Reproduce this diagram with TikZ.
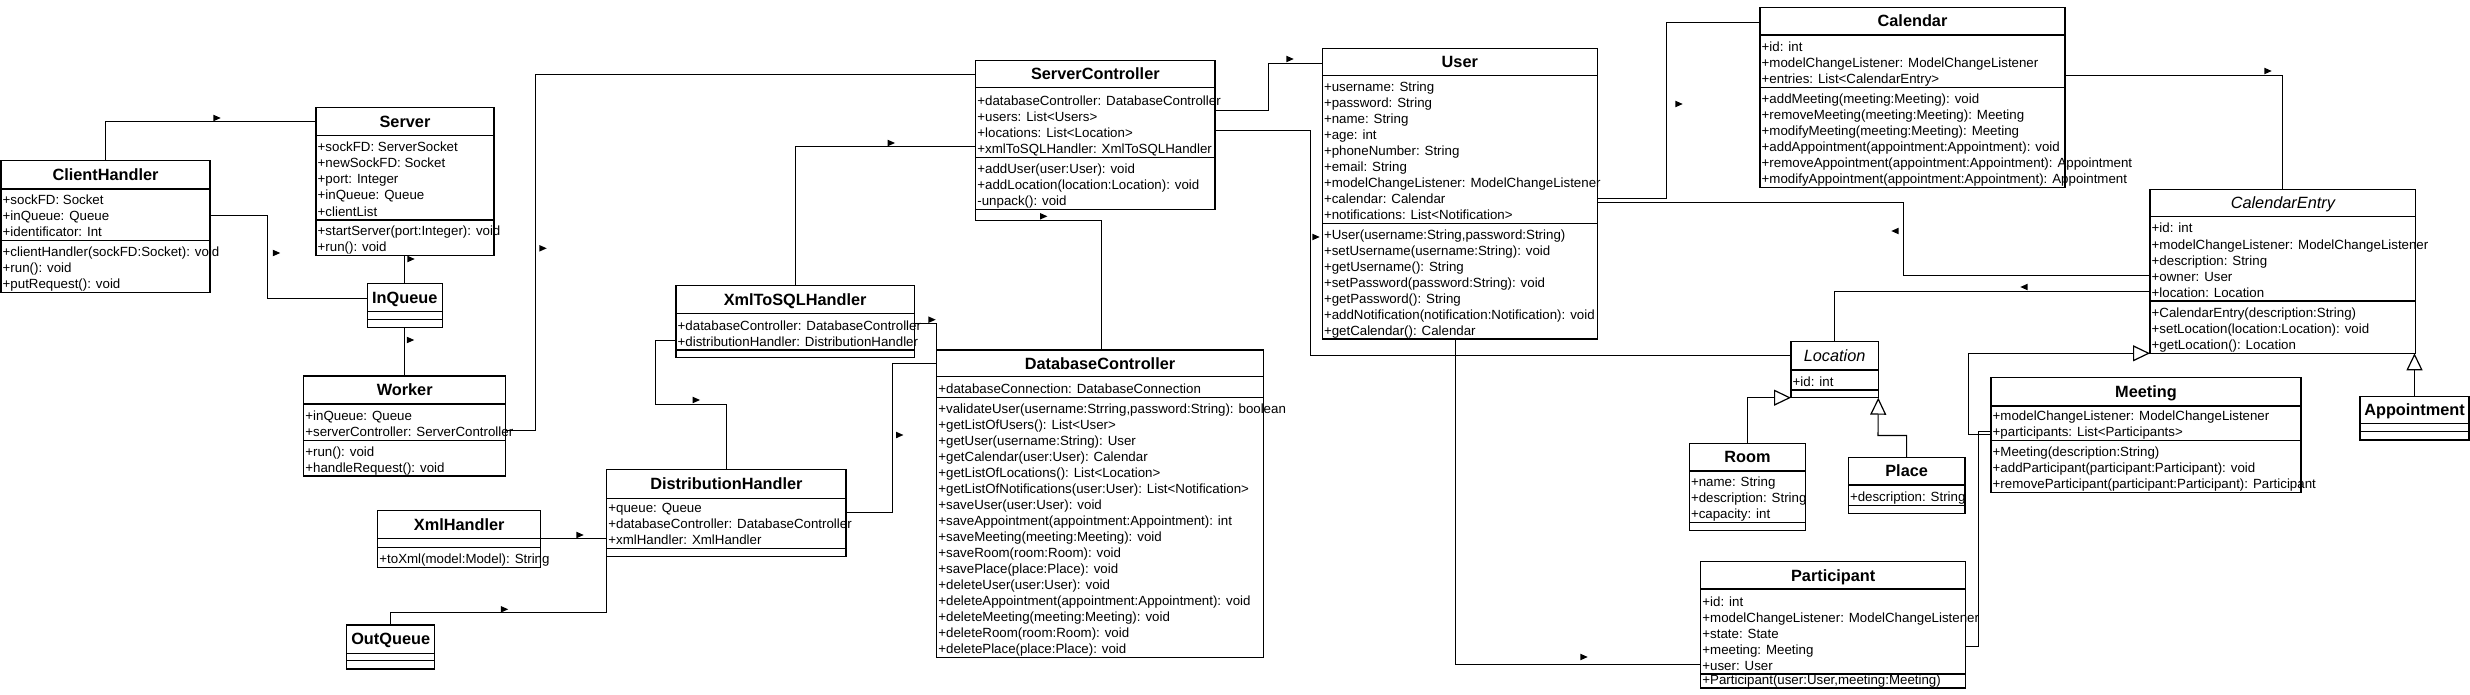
\documentclass[tikz,border=0pt]{standalone}
\usepackage{fontspec}
\setmainfont{Liberation Sans}
\usetikzlibrary{arrows.meta}
\tikzset{
 cls/.style={draw, line width=1.3pt, inner sep=0pt, outer sep=0pt, anchor=north west},
 sepl/.style={line width=1.3pt},
 conn/.style={line width=1.1pt},
 gen/.style={line width=1.1pt, -{Triangle[open,length=17pt,width=16pt,line width=1.2pt]}},
 attr/.style={font=\fontsize{13.3}{16}\selectfont, anchor=base west, inner sep=0pt},
 ttl/.style={font=\fontsize{16.3}{19}\selectfont\bfseries, anchor=base, inner sep=0pt},
 ttli/.style={font=\fontsize{16.3}{19}\selectfont\itshape, anchor=base, inner sep=0pt},
}
% id, L, T, R, B, sep1, sep2, title style, title
\newcommand\ucls[9]{%
 \node[cls, minimum width={(#4)-(#2)}, minimum height={(#5)-(#3)}] (#1) at (#2,#3) {};
 \draw[sepl] (#2,#6) -- (#4,#6);
 \draw[sepl] (#2,#7) -- (#4,#7);
 \node[#8] (#1-t) at ({(#2+#4)/2},{(#3+#6)/2+5.8}) {#9};
}
% name prefix, x, first baseline, list
\newcommand\rows[4]{%
 \foreach \t [count=\i from 0] in {#4} {\node[attr] (#1\i) at (#2+1.5, #3+16*\i) {\t};}
}
\newcommand\mkR[2]{\fill (#1-3.7,#2-3.3) -- (#1+3.7,#2) -- (#1-3.7,#2+3.3) -- cycle;}
\newcommand\mkL[2]{\fill (#1+3.7,#2-3.3) -- (#1-3.7,#2) -- (#1+3.7,#2+3.3) -- cycle;}
\begin{document}
\begin{tikzpicture}[x=1pt,y=-1pt]
\useasboundingbox (0,0) rectangle (2470,695);

\ucls{ch}{1}{160.7}{210}{292.7}{189}{240.7}{ttl}{ClientHandler}
\rows{ch-a}{1}{204.7}{+sockFD: Socket, +inQueue: Queue, +identificator: Int}
\rows{ch-m}{1}{256.7}{+clientHandler(sockFD:Socket): void, +run(): void, +putRequest(): void}

\ucls{srv}{316}{107.3}{494}{255.7}{135.7}{220}{ttl}{Server}
\rows{srv-a}{316}{152}{+sockFD: ServerSocket, +newSockFD: Socket, +port: Integer, +inQueue: Queue, +clientList}
\rows{srv-m}{316}{235.7}{+startServer(port:Integer): void, +run(): void}

\ucls{inq}{367.3}{283.3}{442.3}{327.7}{311.7}{319.3}{ttl}{InQueue}

\ucls{wrk}{303.7}{376}{505.7}{476}{404}{440.3}{ttl}{Worker}
\rows{wrk-a}{303.7}{420.3}{+inQueue: Queue, +serverController: ServerController}
\rows{wrk-m}{303.7}{456}{+run(): void, +handleRequest(): void}

\ucls{sc}{975.7}{60.7}{1215}{209.3}{87.7}{157.3}{ttl}{ServerController}
\rows{sc-a}{975.7}{105.3}{+databaseController: DatabaseController, +users: List<Users>, +locations: List<Location>, +xmlToSQLHandler: XmlToSQLHandler}
\rows{sc-m}{975.7}{173.3}{+addUser(user:User): void, +addLocation(location:Location): void, -unpack(): void}

\ucls{x2s}{676}{285.7}{914.3}{357.3}{313.3}{350}{ttl}{XmlToSQLHandler}
\rows{x2s-a}{676}{330}{+databaseController: DatabaseController, +distributionHandler: DistributionHandler}

\ucls{dh}{606.7}{469.3}{846}{556.7}{498.3}{548.3}{ttl}{DistributionHandler}
\rows{dh-a}{606.7}{512.3}{+queue: Queue, +databaseController: DatabaseController, +xmlHandler: XmlHandler}

\ucls{xh}{377.7}{510.7}{540.7}{567.3}{538.3}{547.3}{ttl}{XmlHandler}
\rows{xh-m}{377.7}{563.3}{+toXml(model:Model): String}

\ucls{oq}{346.7}{625}{434.7}{669}{653.3}{660.7}{ttl}{OutQueue}

\ucls{db}{936.7}{350}{1263.3}{657.3}{376.7}{397.3}{ttl}{DatabaseController}
\rows{db-a}{936.7}{393.3}{+databaseConnection: DatabaseConnection}
\rows{db-m}{936.7}{413.3}{{+validateUser(username:Strring,password:String): boolean}, +getListOfUsers(): List<User>, +getUser(username:String): User, +getCalendar(user:User): Calendar, +getListOfLocations(): List<Location>, +getListOfNotifications(user:User): List<Notification>, +saveUser(user:User): void, +saveAppointment(appointment:Appointment): int, +saveMeeting(meeting:Meeting): void, +saveRoom(room:Room): void, +savePlace(place:Place): void, +deleteUser(user:User): void, +deleteAppointment(appointment:Appointment): void, +deleteMeeting(meeting:Meeting): void, +deleteRoom(room:Room): void, +deletePlace(place:Place): void}

\ucls{usr}{1322.3}{48.3}{1597.3}{339}{75.7}{223.7}{ttl}{User}
\rows{usr-a}{1322.3}{91.7}{+username: String, +password: String, +name: String, +age: int, +phoneNumber: String, +email: String, +modelChangeListener: ModelChangeListener, +calendar: Calendar, +notifications: List<Notification>}
\rows{usr-m}{1322.3}{239}{{+User(username:String,password:String)}, +setUsername(username:String): void, +getUsername(): String, +setPassword(password:String): void, +getPassword(): String, +addNotification(notification:Notification): void, +getCalendar(): Calendar}

\ucls{cal}{1760}{7.3}{2065}{187.3}{35}{87.3}{ttl}{Calendar}
\rows{cal-a}{1760}{51.3}{+id: int, +modelChangeListener: ModelChangeListener, +entries: List<CalendarEntry>}
\rows{cal-m}{1760}{103.3}{+addMeeting(meeting:Meeting): void, +removeMeeting(meeting:Meeting): Meeting, +modifyMeeting(meeting:Meeting): Meeting, +addAppointment(appointment:Appointment): void, +removeAppointment(appointment:Appointment): Appointment, +modifyAppointment(appointment:Appointment): Appointment}

\ucls{ce}{2150}{189.3}{2415.7}{353.3}{216.7}{301}{ttli}{CalendarEntry}
\rows{ce-a}{2150}{233}{+id: int, +modelChangeListener: ModelChangeListener, +description: String, +owner: User, +location: Location}
\rows{ce-m}{2150}{317.3}{+CalendarEntry(description:String), +setLocation(location:Location): void, +getLocation(): Location}

\ucls{loc}{1791}{341.7}{1878.3}{397.7}{370}{390}{ttli}{Location}
\rows{loc-a}{1791}{386}{+id: int}

\ucls{room}{1689.3}{443.3}{1805.7}{530.7}{471}{522.7}{ttl}{Room}
\rows{room-a}{1689.3}{486.7}{+name: String, +description: String, +capacity: int}

\ucls{place}{1848.3}{457.3}{1965}{513.3}{485}{505.7}{ttl}{Place}
\rows{place-a}{1848.3}{501.7}{+description: String}

\ucls{mtg}{1991}{377.3}{2301}{492.7}{406}{440.7}{ttl}{Meeting}
\rows{mtg-a}{1991}{420.7}{+modelChangeListener: ModelChangeListener, +participants: List<Participants>}
\rows{mtg-m}{1991}{456.7}{+Meeting(description:String), +addParticipant(participant:Participant): void, +removeParticipant(participant:Participant): Participant}

\ucls{app}{2360}{396.7}{2469}{440}{423.3}{431.7}{ttl}{Appointment}

\ucls{part}{1700.7}{561.7}{1965.7}{688}{589}{674}{ttl}{Participant}
\rows{part-a}{1700.7}{606}{+id: int, +modelChangeListener: ModelChangeListener, +state: State, +meeting: Meeting, +user: User}
\rows{part-m}{1700.7}{684.3}{{+Participant(user:User,meeting:Meeting)}}

% connectors
\draw[conn] (ch.north -| 105.5,0) |- (srv.west |- 0,121.7);
\draw[conn] (ch.east |- 0,215.5) -| (267.7,298.3) -- (inq.west |- 0,298.3);
\draw[conn] (srv.south -| inq.north) -- (inq.north);
\draw[conn] (inq.south) -- (wrk.north -| inq.south);
\draw[conn] (wrk.east |- 0,430.5) -| (535.3,74.7) -- (sc.west |- 0,74.7);
\draw[conn] (x2s.north -| 795.5,0) |- (sc.west |- 0,146.7);
\draw[conn] (db.north -| 1101.7,0) |- (sc.south west |- 0,220.7) -- (sc.south west);
\draw[conn] (x2s.east |- 0,323.3) -| (db.north west);
\draw[conn] (x2s.west |- 0,340.5) -| (655.5,404.5) -| (dh.north -| 726.7,0);
\draw[conn] (dh.east |- 0,512.7) -| (892.7,363.5) -- (db.west |- 0,363.5);
\draw[conn] (xh.east |- 0,538.3) -- (dh.west |- 0,538.3);
\draw[conn] (dh.south west) |- (oq.north |- 0,612.7) -- (oq.north);
\draw[conn] (sc.east |- 0,110.3) -| (1268.5,63.5) -- (usr.west |- 0,63.5);
\draw[conn] (sc.east |- 0,130.3) -| (1310.5,355.7) -- (loc.west |- 0,355.7);
\draw[conn] (usr.east |- 0,198.3) -| (1666.5,22.7) -- (cal.west |- 0,22.7);
\draw[conn] (usr.east |- 0,202.3) -| (1903.5,275.5) -- (ce.west |- 0,275.5);
\draw[conn] (ce.west |- 0,291.5) -| (loc.north);
\draw[conn] (cal.east |- 0,75.6) -| (ce.north);
\draw[conn] (usr.south -| 1455.5,0) |- (part.west |- 0,664.3);
\draw[conn] (part.east |- 0,646.5) -| (1978.3,431.5) -- (mtg.west |- 0,431.5);
\draw[gen] (mtg.west |- 0,434.7) -| (1968.3,353.3) -- (ce.south west);
\draw[gen] (room.north) |- (loc.south west);
\draw[gen] (place.north) |- (1878,435.5) -- (loc.south east);
\draw[gen] (app.north) -- (app.north |- ce.south);

% direction markers
\mkR{217}{118}
\mkR{276.5}{253}
\mkR{411}{259}
\mkR{410.5}{340}
\mkR{543}{248.3}
\mkR{891.3}{143}
\mkR{1043.7}{216.3}
\mkR{932}{319.7}
\mkR{696.3}{400}
\mkR{899.7}{435}
\mkR{580}{535}
\mkR{504.5}{609.3}
\mkR{1290}{59}
\mkR{1316}{237}
\mkR{1679}{104}
\mkL{1895}{231}
\mkL{2024}{287}
\mkR{2268}{71}
\mkR{1584}{657}
\end{tikzpicture}
\end{document}
